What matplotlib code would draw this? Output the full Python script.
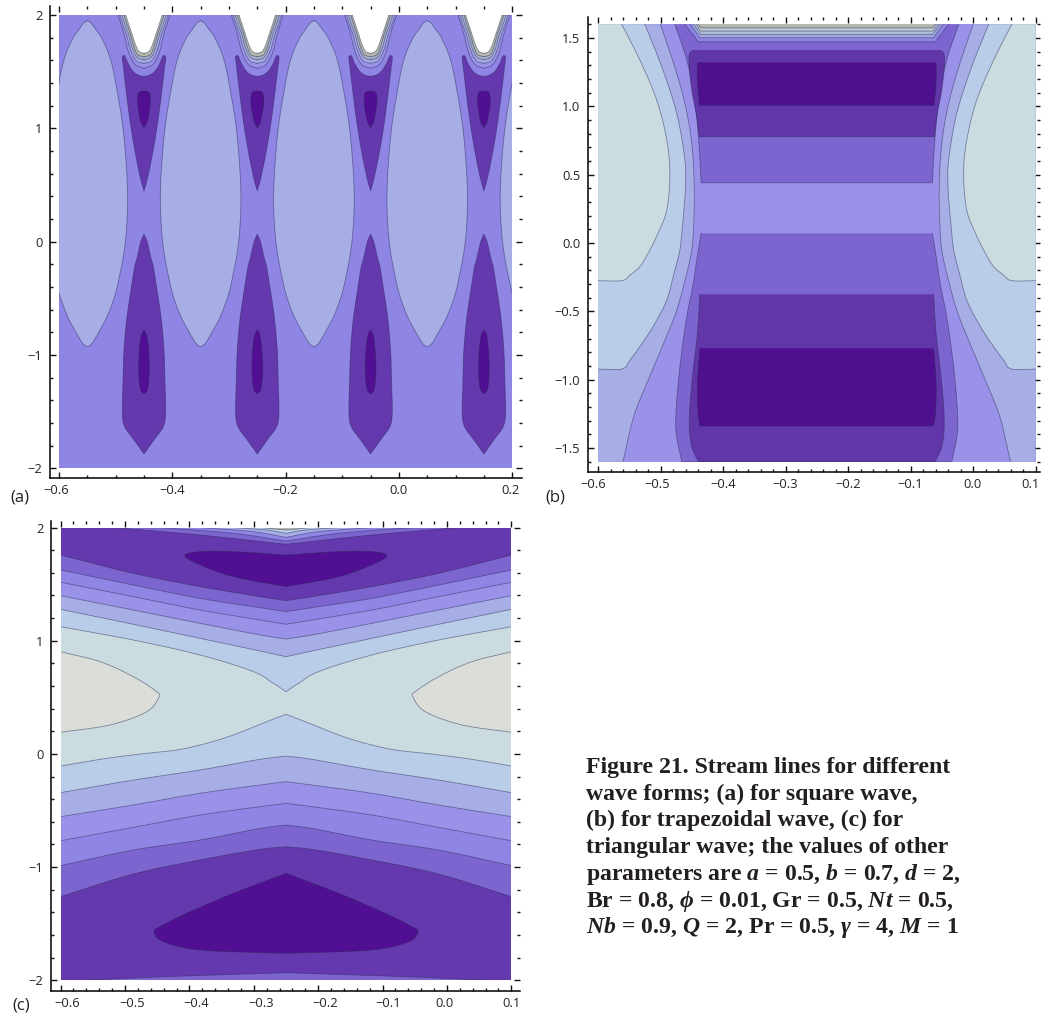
import numpy as np
import matplotlib
matplotlib.use('Agg')
import matplotlib.pyplot as plt
from matplotlib.ticker import MultipleLocator
from matplotlib.transforms import ScaledTranslation

plt.rcParams['font.family'] = ['Open Sans', 'DejaVu Sans']
plt.rcParams['mathtext.fontset'] = 'custom'
plt.rcParams['mathtext.it'] = 'Liberation Serif:italic:bold'
plt.rcParams['mathtext.rm'] = 'Liberation Serif:bold'
plt.rcParams['mathtext.bf'] = 'Liberation Serif:bold'

W, H = 1041, 1013

# colours, light to dark
TAN = '#b6b9a9'
PALE = '#cbdce1'
SKY = '#b9cde8'
LAV = '#a7aee6'
PERI = '#9a92e9'
BASE = '#8f85e5'
MID = '#7d65cf'
DARK = '#6539ae'
DEEP = '#510f94'
LINE = (0.16, 0.16, 0.32, 0.5)

# ---- panel a, shapes as half widths around each centre
a_xticks = [-0.6, -0.4, -0.2, 0.0, 0.2]
a_xlabels = ['\u22120.6', '\u22120.4', '\u22120.2', '0.0', '0.2']
a_yticks = [-2, -1, 0, 1, 2]
a_ylabels = ['\u22122', '\u22121', '0', '1', '2']
a_lens_centres = [-0.55, -0.35, -0.15, 0.05, 0.25]
a_cell_centres = [-0.45, -0.25, -0.05, 0.15]

lens_y = [1.95, 1.93, 1.88, 1.8, 1.6, 1.29, 1.0, 0.66, 0.37, 0.1, -0.1, -0.3, -0.47, -0.66, -0.81, -0.9, -0.93]
lens_w = [0, 0.0065, 0.0135, 0.025, 0.0415, 0.054, 0.063, 0.069, 0.0712, 0.069, 0.0645, 0.057, 0.049, 0.035, 0.019, 0.008, 0]

up_dark_y = [0.45, 0.529, 0.691, 0.897, 1.132, 1.367, 1.544, 1.632, 1.64, 1.573, 1.50, 1.467, 1.458]
up_dark_w = [0, 0.0047, 0.0118, 0.0194, 0.0265, 0.0324, 0.0365, 0.0382, 0.0341, 0.0282, 0.0188, 0.0088, 0]
up_deep_y = [1.008, 1.044, 1.117, 1.22, 1.294, 1.323, 1.329]
up_deep_w = [0, 0.0047, 0.0082, 0.0112, 0.0106, 0.0071, 0]
low_dark_y = [0.064, 0.01, -0.06, -0.15, -0.221, -0.368, -0.662, -0.956, -1.25, -1.515, -1.633, -1.75, -1.874]
low_dark_w = [0, 0.005, 0.0085, 0.0125, 0.0165, 0.0212, 0.03, 0.0353, 0.0371, 0.0382, 0.0341, 0.0176, 0]
low_deep_y = [-0.78, -0.824, -0.927, -1.074, -1.206, -1.309, -1.345]
low_deep_w = [0, 0.0047, 0.0076, 0.0094, 0.0088, 0.0059, 0]

cusp4_y = [1.529, 1.558, 1.661, 1.808, 1.911, 2.0]
cusp4_w = [0, 0.0147, 0.0265, 0.0341, 0.04, 0.0459]
cusp3_y = [1.573, 1.594, 1.691, 1.823, 1.911, 2.0]
cusp3_w = [0, 0.0129, 0.0235, 0.0306, 0.037, 0.0429]
cusp2_y = [1.603, 1.623, 1.706, 1.823, 1.911, 2.0]
cusp2_w = [0, 0.0118, 0.0206, 0.027, 0.0335, 0.0394]
cusp1_y = [1.632, 1.647, 1.72, 1.823, 1.911, 2.0]
cusp1_w = [0, 0.0106, 0.0176, 0.0235, 0.0294, 0.0353]
cusp0_y = [1.661, 1.676, 1.735, 1.823, 1.911, 2.02]
cusp0_w = [0, 0.0082, 0.0147, 0.0206, 0.0265, 0.0335]

# ---- panel b, left hand curves, mirrored about x = -0.25
b_xticks = [-0.6, -0.5, -0.4, -0.3, -0.2, -0.1, 0.0, 0.1]
b_xlabels = ['\u22120.6', '\u22120.5', '\u22120.4', '\u22120.3', '\u22120.2', '\u22120.1', '0.0', '0.1']
b_yticks = [-1.5, -1.0, -0.5, 0.0, 0.5, 1.0, 1.5]
b_ylabels = ['\u22121.5', '\u22121.0', '\u22120.5', '0.0', '0.5', '1.0', '1.5']

b_pale_x = [-0.562, -0.533, -0.506, -0.49, -0.485, -0.49, -0.504, -0.517, -0.533, -0.549, -0.562, -0.6]
b_pale_y = [1.6, 1.339, 1.046, 0.754, 0.51, 0.241, 0.071, -0.051, -0.173, -0.234, -0.275, -0.275]
b_sky_x = [-0.525, -0.498, -0.474, -0.461, -0.46, -0.464, -0.469, -0.477, -0.49, -0.512, -0.533, -0.549, -0.562, -0.6]
b_sky_y = [1.6, 1.29, 0.949, 0.607, 0.412, 0.168, -0.051, -0.197, -0.417, -0.612, -0.758, -0.856, -0.922, -0.922]
b_lav_x = [-0.5, -0.479, -0.461, -0.45, -0.446, -0.447, -0.45, -0.458, -0.474, -0.495, -0.522, -0.543, -0.56]
b_lav_y = [1.6, 1.315, 1.022, 0.729, 0.412, 0.119, -0.051, -0.222, -0.49, -0.734, -1.027, -1.271, -1.6]

b_mid_up_x = [-0.477, -0.458, -0.446, -0.439, -0.435]
b_mid_up_y = [1.6, 1.339, 1.071, 0.754, 0.441]
b_dark_up_x = [-0.4464, -0.453, -0.4544, -0.45, -0.442, -0.438]
b_dark_up_y = [1.412, 1.39, 1.315, 1.119, 0.924, 0.778]
b_deep_up_x = [-0.439, -0.441, -0.441, -0.438]
b_deep_up_y = [1.322, 1.3, 1.193, 1.007]
b_mid_low_x = [-0.435, -0.4395, -0.4475, -0.458, -0.469, -0.475, -0.475, -0.466]
b_mid_low_y = [0.071, -0.051, -0.295, -0.539, -0.905, -1.222, -1.392, -1.6]
b_dark_low_x = [-0.437, -0.441, -0.45, -0.454, -0.45, -0.4395]
b_dark_low_y = [-0.375, -0.661, -1.027, -1.319, -1.49, -1.6]
b_deep_low_x = [-0.437, -0.441, -0.44, -0.437]
b_deep_low_y = [-0.77, -1.027, -1.246, -1.339]

b_s1_x = [-0.4608, -0.4395]
b_s1_y = [1.6, 1.473]
b_s2_x = [-0.452, -0.437]
b_s2_y = [1.6, 1.502]
b_s3_x = [-0.447, -0.436]
b_s3_y = [1.6, 1.527]
b_s4_x = [-0.443, -0.436]
b_s4_y = [1.6, 1.551]
b_s5_x = [-0.44, -0.435]
b_s5_y = [1.6, 1.575]

# ---- panel c, same idea
c_xticks = b_xticks
c_xlabels = b_xlabels
c_yticks = a_yticks
c_ylabels = a_ylabels
c_x = [-0.6, -0.487, -0.3835, -0.2904, -0.25]
c_up1 = [1.757, 1.595, 1.478, 1.389, 1.354]
c_up2 = [1.625, 1.492, 1.374, 1.292, 1.257]
c_up3 = [1.516, 1.389, 1.271, 1.183, 1.145]
c_up4 = [1.398, 1.271, 1.154, 1.051, 1.015]
c_up5 = [1.277, 1.145, 1.021, 0.909, 0.859]
c_up6_x = [-0.6, -0.487, -0.3835, -0.3007, -0.2697, -0.25]
c_up6_y = [1.124, 1.006, 0.874, 0.727, 0.624, 0.55]
c_low1_x = [-0.6, -0.5388, -0.4767, -0.42, -0.373, -0.332, -0.28, -0.25]
c_low1_y = [-0.107, -0.048, -0.001, 0.0345, 0.094, 0.167, 0.285, 0.35]
c_low2 = [-0.342, -0.231, -0.142, -0.048, -0.019]
c_low3 = [-0.554, -0.451, -0.348, -0.275, -0.245]
c_low4 = [-0.767, -0.649, -0.54, -0.466, -0.437]
c_low5 = [-0.987, -0.849, -0.761, -0.658, -0.628]
c_low6 = [-1.261, -1.061, -0.937, -0.843, -0.82]
c_egg_x = [-0.6, -0.5388, -0.487, -0.4508, -0.447, -0.4664, -0.5233, -0.6]
c_egg_y = [0.903, 0.815, 0.682, 0.55, 0.506, 0.373, 0.256, 0.191]
c_deep_up_x = [-0.25, -0.332, -0.3835, -0.4068, -0.3887, -0.332, -0.25]
c_deep_up_y = [1.757, 1.787, 1.787, 1.757, 1.684, 1.566, 1.478]
c_deep_low_x = [-0.25, -0.332, -0.4042, -0.4457, -0.455, -0.4405, -0.3835, -0.25]
c_deep_low_y = [-1.055, -1.232, -1.408, -1.526, -1.57, -1.659, -1.732, -1.762]
c_bot_x = [-0.56, -0.549, -0.435, -0.25]
c_bot_y = [-2.0, -1.997, -1.968, -1.933]
c_t1_x = [-0.518, -0.3835, -0.25]
c_t1_y = [2.0, 1.934, 1.852]
c_t2_x = [-0.4457, -0.332, -0.25]
c_t2_y = [2.0, 1.949, 1.881]
c_t3_x = [-0.3835, -0.3007, -0.25]
c_t3_y = [2.0, 1.964, 1.913]
c_t4_x = [-0.332, -0.28, -0.25]
c_t4_y = [2.0, 1.978, 1.949]
c_t5_x = [-0.29, -0.25]
c_t5_y = [2.0, 1.978]

caption = [
    'Figure 21. Stream lines for different',
    'wave forms; (a) for square wave,',
    '(b) for trapezoidal wave, (c) for',
    'triangular wave; the values of other',
    'parameters are $a$ = 0.5, $b$ = 0.7, $d$ = 2,',
    'Br = 0.8, $\\phi$ = 0.01, Gr = 0.5, $Nt$ = 0.5,',
    '$Nb$ = 0.9, $Q$ = 2, Pr = 0.5, $\\gamma$ = 4, $M$ = 1',
]


def make_axes(fig, box, xlim, ylim, xticks, xlabels, yticks, ylabels, xminor, yminor):
    left, right, top, bottom = box
    ax = fig.add_axes([left / W, 1 - bottom / H, (right - left) / W, (bottom - top) / H])
    ax.set_xlim(xlim)
    ax.set_ylim(ylim)
    ax.set_xticks(xticks)
    ax.set_xticklabels(xlabels)
    ax.set_yticks(yticks)
    ax.set_yticklabels(ylabels)
    ax.xaxis.set_minor_locator(MultipleLocator(xminor))
    ax.yaxis.set_minor_locator(MultipleLocator(yminor))
    ax.tick_params(which='both', direction='in', top=True, right=True, width=1.0, color='#111111')
    ax.tick_params(which='major', length=4.3, labelsize=9.3, labelcolor='#222222')
    ax.tick_params(which='minor', length=2.2)
    ax.tick_params(axis='x', which='major', pad=4.5)
    ax.tick_params(axis='y', which='major', pad=5.5)
    ax.spines['top'].set_visible(False)
    ax.spines['right'].set_visible(False)
    ax.spines['left'].set_linewidth(1.1)
    ax.spines['bottom'].set_linewidth(1.1)
    return ax


def field(ax, x0, x1, y0, y1, color):
    return ax.fill([x0, x1, x1, x0], [y0, y0, y1, y1], color=color, lw=0, zorder=1)[0]


def smooth(xs, ys, n=12):
    # rounded curve through the read points, corners stay close to them
    p = np.column_stack([xs, ys]).astype(float)
    if len(p) < 3:
        return p[:, 0], p[:, 1]
    t = np.r_[0, np.cumsum(np.hypot(*np.diff(p, axis=0).T) ** 0.5)]
    m = np.zeros_like(p)
    m[1:-1] = (p[2:] - p[:-2]) / (t[2:] - t[:-2])[:, None]
    m[0] = (p[1] - p[0]) / (t[1] - t[0])
    m[-1] = (p[-1] - p[-2]) / (t[-1] - t[-2])
    out = [p[:1]]
    for i in range(len(p) - 1):
        h = t[i + 1] - t[i]
        s = np.linspace(0, 1, n + 1)[1:, None]
        out.append((2 * s**3 - 3 * s**2 + 1) * p[i] + (s**3 - 2 * s**2 + s) * h * m[i]
                   + (-2 * s**3 + 3 * s**2) * p[i + 1] + (s**3 - s**2) * h * m[i + 1])
    out = np.vstack(out)
    return out[:, 0], out[:, 1]


def mirror(ax, clip, cx, xs, ys, color, close=None, z=2, clip_fill=True):
    # left hand curve plus its mirror image, close = y of the edge it shuts against
    xs, ys = smooth(xs, ys)
    px = np.r_[xs, 2 * cx - xs[::-1]]
    py = np.r_[ys, ys[::-1]]
    fx, fy = px, py
    if close is not None:
        fx = np.r_[px, px[-1], px[0]]
        fy = np.r_[py, close, close]
    poly = ax.fill(fx, fy, color=color, lw=0, zorder=z)[0]
    ln = ax.plot(px, py, color=LINE, lw=0.6, zorder=z)[0]
    ln.set_clip_path(clip)
    if clip_fill:
        poly.set_clip_path(clip)


def side(ax, clip, cx, xs, ys, corners_x, corners_y, color, z=2):
    # one shape on each side of the centre, outer corners shut it
    xs, ys = smooth(xs, ys)
    for flip in (False, True):
        cxs = np.r_[xs, corners_x]
        lxs = xs
        if flip:
            cxs = 2 * cx - cxs
            lxs = 2 * cx - lxs
        poly = ax.fill(cxs, np.r_[ys, corners_y], color=color, lw=0, zorder=z)[0]
        poly.set_clip_path(clip)
        ln = ax.plot(lxs, ys, color=LINE, lw=0.6, zorder=z)[0]
        ln.set_clip_path(clip)


def shift_labels(fig, ax, offsets):
    for lab, dx in zip(ax.get_xticklabels(), offsets):
        lab.set_transform(lab.get_transform() + ScaledTranslation(dx / 100, 0, fig.dpi_scale_trans))


fig = plt.figure(figsize=(W / 100, H / 100), dpi=100)

# (a)
ax = make_axes(fig, (50, 522, 6, 478), (-0.6159, 0.2173), (-2.086, 2.079),
               a_xticks, a_xlabels, a_yticks, a_ylabels, 0.05, 0.2)
bg = field(ax, -0.6, 0.2, -2, 2, BASE)
for c in a_lens_centres:
    mirror(ax, bg, c, c - np.array(lens_w), lens_y, LAV)
for c in a_cell_centres:
    mirror(ax, bg, c, c - np.array(up_dark_w), up_dark_y, DARK)
    mirror(ax, bg, c, c - np.array(up_deep_w), up_deep_y, DEEP, z=3)
    mirror(ax, bg, c, c - np.array(low_dark_w), low_dark_y, DARK)
    mirror(ax, bg, c, c - np.array(low_deep_w), low_deep_y, DEEP, z=3)
    mirror(ax, bg, c, c - np.array(cusp4_w), cusp4_y, PERI, z=4)
    mirror(ax, bg, c, c - np.array(cusp3_w), cusp3_y, LAV, z=5)
    mirror(ax, bg, c, c - np.array(cusp2_w), cusp2_y, '#a4aec8', z=6)
    mirror(ax, bg, c, c - np.array(cusp1_w), cusp1_y, '#b4baae', z=7)
    mirror(ax, bg, c, c - np.array(cusp0_w), cusp0_y, 'white', z=8, clip_fill=False)
shift_labels(fig, ax, [-3, 0, 0, 0, -2])

# (b)
ax = make_axes(fig, (588, 1040, 17, 472), (-0.616, 0.1072), (-1.675, 1.654),
               b_xticks, b_xlabels, b_yticks, b_ylabels, 0.02, 0.1)
bg = field(ax, -0.6, 0.1, -1.6, 1.6, PERI)
side(ax, bg, -0.25, b_lav_x, b_lav_y, [-0.6, -0.6], [-1.6, 1.6], LAV)
side(ax, bg, -0.25, b_sky_x, b_sky_y, [-0.6], [1.6], SKY)
side(ax, bg, -0.25, b_pale_x, b_pale_y, [-0.6], [1.6], PALE)
mirror(ax, bg, -0.25, b_mid_up_x, b_mid_up_y, MID, z=3)
mirror(ax, bg, -0.25, b_mid_low_x, b_mid_low_y, MID, z=3)
mirror(ax, bg, -0.25, b_dark_up_x, b_dark_up_y, '#6136a9', z=4)
mirror(ax, bg, -0.25, b_dark_low_x, b_dark_low_y, '#6136a9', z=4)
mirror(ax, bg, -0.25, b_deep_up_x, b_deep_up_y, '#4f1090', z=5)
mirror(ax, bg, -0.25, b_deep_low_x, b_deep_low_y, '#4f1090', z=5)
stripes = [(b_s1_x, b_s1_y, BASE), (b_s2_x, b_s2_y, '#a0a8e0'), (b_s3_x, b_s3_y, '#b0bcdc'),
           (b_s4_x, b_s4_y, '#bcc9d0'), (b_s5_x, b_s5_y, TAN)]
for i, (sx, sy, col) in enumerate(stripes):
    mirror(ax, bg, -0.25, sx, sy, col, z=6 + i)
shift_labels(fig, ax, [-5, -3, 0, 0, 0, 0, -1, -5])

# (c)
ax = make_axes(fig, (51, 520, 520.5, 990.5), (-0.6149, 0.1134), (-2.09, 2.062),
               c_xticks, c_xlabels, c_yticks, c_ylabels, 0.02, 0.2)
bg = field(ax, -0.6, 0.1, -2, 2, PALE)
mirror(ax, bg, -0.25, c_up6_x, c_up6_y, SKY, close=2, z=2)
mirror(ax, bg, -0.25, c_x, c_up5, LAV, close=2, z=3)
mirror(ax, bg, -0.25, c_x, c_up4, PERI, close=2, z=4)
mirror(ax, bg, -0.25, c_x, c_up3, BASE, close=2, z=5)
mirror(ax, bg, -0.25, c_x, c_up2, MID, close=2, z=6)
mirror(ax, bg, -0.25, c_x, c_up1, DARK, close=2, z=7)
mirror(ax, bg, -0.25, c_deep_up_x, c_deep_up_y, DEEP, z=8)
mirror(ax, bg, -0.25, c_t1_x, c_t1_y, MID, z=9)
mirror(ax, bg, -0.25, c_t2_x, c_t2_y, BASE, z=10)
mirror(ax, bg, -0.25, c_t3_x, c_t3_y, LAV, z=11)
mirror(ax, bg, -0.25, c_t4_x, c_t4_y, SKY, z=12)
mirror(ax, bg, -0.25, c_t5_x, c_t5_y, TAN, z=13)
mirror(ax, bg, -0.25, c_low1_x, c_low1_y, SKY, close=-2, z=2)
mirror(ax, bg, -0.25, c_x, c_low2, LAV, close=-2, z=3)
mirror(ax, bg, -0.25, c_x, c_low3, PERI, close=-2, z=4)
mirror(ax, bg, -0.25, c_x, c_low4, BASE, close=-2, z=5)
mirror(ax, bg, -0.25, c_x, c_low5, MID, close=-2, z=6)
mirror(ax, bg, -0.25, c_x, c_low6, DARK, close=-2, z=7)
mirror(ax, bg, -0.25, c_deep_low_x, c_deep_low_y, DEEP, z=8)
mirror(ax, bg, -0.25, c_bot_x, c_bot_y, MID, close=-2, z=8)
side(ax, bg, -0.25, c_egg_x, c_egg_y, [], [], '#dbddd8', z=9)
shift_labels(fig, ax, [7, 7, 7, 7, 7, 6, -2, 0])

# panel letters
fig.text(10 / W, 1 - 501 / H, '(a)', fontsize=12, color='#222222', va='baseline')
fig.text(545 / W, 1 - 501 / H, '(b)', fontsize=12, color='#222222', va='baseline')
fig.text(12 / W, 1 - 1009 / H, '(c)', fontsize=12, color='#222222', va='baseline')

for i, line in enumerate(caption):
    fig.text(586 / W, 1 - (773 + i * 26.7) / H, line, fontsize=17.1, fontweight='bold',
             family='Liberation Serif', color='#231f20', va='baseline')

fig.savefig('out.png', dpi=100)
